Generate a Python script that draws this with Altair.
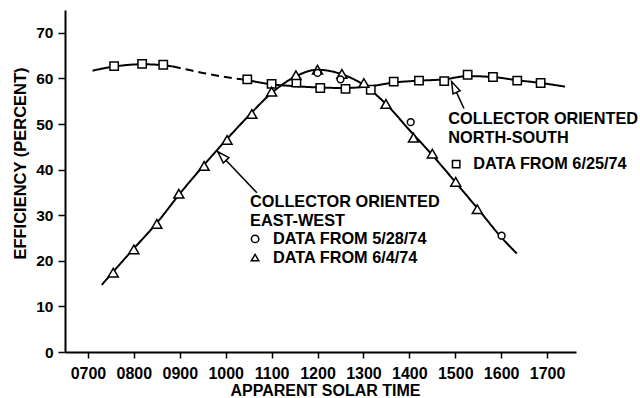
import altair as alt
import pandas as pd

# ---- data ----
hour_ticks = [7, 8, 9, 10, 11, 12, 13, 14, 15, 16, 17]
eff_ticks = [0, 10, 20, 30, 40, 50, 60, 70]

# North-South collector, data from 6/25/74 (squares)
ns_time = [7.57, 8.18, 8.64, 10.47, 11.0, 11.54, 12.06, 12.61, 13.16, 13.66, 14.21, 14.76, 15.27, 15.82, 16.35, 16.86]
ns_eff = [62.7, 63.2, 63.0, 59.8, 58.8, 59.1, 57.9, 57.7, 57.5, 59.3, 59.5, 59.4, 60.8, 60.3, 59.5, 59.0]

# East-West collector, data from 6/4/74 (triangles)
tri_time = [7.55, 8.0, 8.5, 8.98, 9.53, 10.03, 10.57, 11.0, 11.53, 12.0, 12.53, 13.01, 13.49, 14.09, 14.5, 15.01, 15.48]
tri_eff = [17.4, 22.5, 28.1, 34.7, 40.8, 46.5, 52.2, 57.1, 60.7, 61.9, 61.0, 59.0, 54.4, 47.0, 43.5, 37.3, 31.3]

# East-West collector, data from 5/28/74 (circles)
cir_time = [12.0, 12.5, 14.03, 16.01]
cir_eff = [61.2, 59.8, 50.4, 25.5]

# fitted curves
ns_curve_time = [7.1, 7.57, 8.18, 8.64, 8.85, 9.0, 9.5, 10.0, 10.35, 10.47, 11.0, 11.5, 12.05, 12.6, 13.16, 13.67, 14.21, 14.76, 15.27, 15.82, 16.35, 16.86, 17.39]
ns_curve_eff = [61.7, 62.6, 63.1, 62.9, 62.6, 62.3, 61.2, 60.3, 59.8, 59.6, 58.7, 58.3, 58.0, 57.9, 58.3, 59.1, 59.5, 59.8, 60.5, 60.3, 59.6, 59.0, 58.2]
ns_dashed_from, ns_dashed_to = 4, 8  # indices of the dashed stretch

ew_curve_time = [7.3, 7.55, 8.0, 8.5, 9.0, 9.5, 10.0, 10.5, 11.0, 11.5, 12.0, 12.5, 13.0, 13.5, 14.0, 14.5, 15.0, 15.5, 16.0, 16.34]
ew_curve_eff = [14.7, 17.6, 22.7, 28.3, 34.7, 40.7, 46.4, 51.8, 56.8, 60.3, 61.9, 61.0, 58.6, 54.3, 48.7, 43.2, 37.3, 31.3, 25.2, 21.6]

# annotation texts
label_text = ["COLLECTOR ORIENTED", "EAST-WEST", "DATA FROM 5/28/74", "DATA FROM 6/4/74",
              "COLLECTOR ORIENTED", "NORTH-SOUTH", "DATA FROM 6/25/74"]
label_time = [10.53, 10.53, 11.03, 11.03, 14.85, 14.85, 15.39]
label_eff = [32.8, 28.7, 24.8, 20.7, 51.1, 47.0, 41.2]

key_shape = ["circle", "triangle-up", "square"]
key_time = [10.64, 10.64, 15.02]
key_eff = [24.8, 20.7, 41.2]

arrow_tail_time = [10.68, 15.19]
arrow_tail_eff = [34.9, 53.4]
arrow_tip_time = [9.83, 14.92]
arrow_tip_eff = [43.9, 59.3]
arrow_angle = [316, 335]

# ---- build tables ----
FONT = "Liberation Sans"
X = alt.X("t:Q", scale=alt.Scale(domain=[6.5, 17.63], nice=False, zero=False),
          axis=alt.Axis(values=hour_ticks, title="APPARENT SOLAR TIME",
                        labelExpr="(datum.value < 10 ? '0' : '') + datum.value + '00'",
                        grid=False, domainColor="black", domainWidth=2, tickColor="black",
                        tickWidth=1.5, tickSize=6, labelPadding=7, labelFont=FONT,
                        labelFontSize=16, labelFontWeight="bold", labelColor="black",
                        titleFont=FONT, titleFontSize=16, titleFontWeight="bold", titleColor="black",
                        titleX=260, titleY=43, titleBaseline="alphabetic", titleAlign="center"))
Y = alt.Y("e:Q", scale=alt.Scale(domain=[0, 75], nice=False),
          axis=alt.Axis(values=eff_ticks, title="EFFICIENCY (PERCENT)", grid=False,
                        domainColor="black", domainWidth=2, tickColor="black", tickWidth=1.5,
                        tickSize=7, labelPadding=5, labelFont=FONT, labelFontSize=15.5,
                        labelFontWeight="bold", labelColor="black",
                        titleFont=FONT, titleFontSize=16.5, titleFontWeight="bold", titleColor="black",
                        titleAngle=270, titleX=-40, titleY=153, titleAlign="center",
                        titleBaseline="alphabetic"))

rows = []
segs = [(0, ns_dashed_from, "solid", "a"), (ns_dashed_from, ns_dashed_to, "dashed", "b"),
        (ns_dashed_to, len(ns_curve_time) - 1, "solid", "c")]
for lo, hi, style, sid in segs:
    for i in range(lo, hi + 1):
        rows.append({"t": ns_curve_time[i], "e": ns_curve_eff[i], "style": style, "seg": sid})
for t, e in zip(ew_curve_time, ew_curve_eff):
    rows.append({"t": t, "e": e, "style": "solid", "seg": "ew"})
curves = pd.DataFrame(rows)

line = alt.Chart(curves).mark_line(color="black", strokeWidth=2, interpolate="monotone").encode(
    x=X, y=Y, detail="seg:N",
    strokeDash=alt.StrokeDash("style:N", scale=alt.Scale(domain=["solid", "dashed"], range=[[1, 0], [8, 5]]), legend=None),
    order="t:Q")

sq = pd.DataFrame({"t": ns_time, "e": ns_eff})
tr = pd.DataFrame({"t": tri_time, "e": tri_eff})
ci = pd.DataFrame({"t": cir_time, "e": cir_eff})
pt_style = dict(filled=True, fill="white", stroke="black", strokeWidth=1.5, opacity=1)
squares = alt.Chart(sq).mark_point(shape="square", size=70, **pt_style).encode(x="t:Q", y="e:Q")
tris = alt.Chart(tr).mark_point(shape="triangle-up", size=100, **pt_style).encode(x="t:Q", y="e:Q")
circs = alt.Chart(ci).mark_point(shape="circle", size=46, **pt_style).encode(x="t:Q", y="e:Q")

ar = pd.DataFrame({"t": arrow_tail_time, "e": arrow_tail_eff, "t2": arrow_tip_time,
                   "e2": arrow_tip_eff, "ang": arrow_angle})
arrow_lines = alt.Chart(ar).mark_rule(color="black", strokeWidth=1.5).encode(
    x="t:Q", y="e:Q", x2="t2:Q", y2="e2:Q")
heads = alt.Chart(ar).mark_point(shape="M0,0 L-0.33,1 L0.33,1 Z", size=560, filled=True,
                                  fill="white", stroke="black", strokeWidth=1.5, opacity=1).encode(
    x="t2:Q", y="e2:Q", angle=alt.Angle("ang:Q", scale=None))

lab = pd.DataFrame({"t": label_time, "e": label_eff, "txt": label_text})
texts = alt.Chart(lab).mark_text(align="left", baseline="middle", font=FONT, fontSize=16.3,
                                 fontWeight="bold", color="black").encode(x="t:Q", y="e:Q", text="txt:N")

kd = pd.DataFrame({"t": key_time, "e": key_eff, "shape": key_shape})
keys = alt.Chart(kd).mark_point(size=55, **pt_style).encode(
    x="t:Q", y="e:Q",
    shape=alt.Shape("shape:N", scale=None))

chart = alt.layer(line, arrow_lines, heads, squares, tris, circs, texts, keys).properties(
    width=511, height=342,
    autosize=alt.AutoSizeParams(type="none"),
    padding={"left": 65, "top": 10, "right": 64, "bottom": 46},
    background="white",
).configure_view(stroke=None)

chart.save("out.html", embed_options={"renderer": "svg", "actions": False})
